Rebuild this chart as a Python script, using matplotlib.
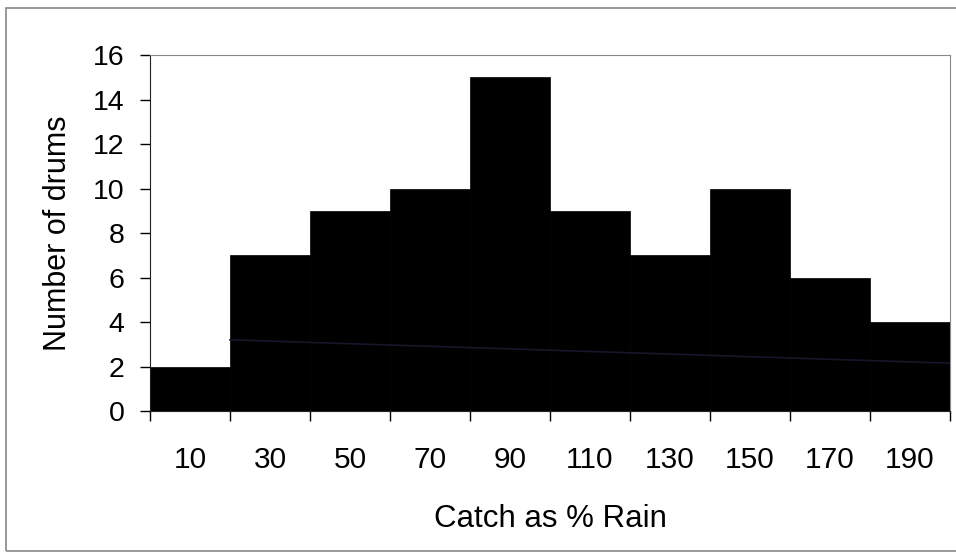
import matplotlib.pyplot as plt
from matplotlib.patches import Rectangle

plt.rcParams['font.family'] = ['Liberation Sans', 'DejaVu Sans']

# histogram data
bin_labels = ['10', '30', '50', '70', '90', '110', '130', '150', '170', '190']
counts = [2, 7, 9, 10, 15, 9, 7, 10, 6, 4]

# faint trend line seen across the bars
trend_x = [0.5, 9.5]
trend_y = [3.2, 2.15]

fig = plt.figure(figsize=(9.56, 5.54), dpi=100)
ax = fig.add_axes([0.1569, 0.2581, 0.9937 - 0.1569, 0.9007 - 0.2581])

x = list(range(len(counts)))
ax.bar(x, counts, width=1.0, color='black', edgecolor='black', linewidth=0.5, zorder=2)
ax.plot(trend_x, trend_y, color='#16162a', linewidth=1.2, zorder=3)

ax.set_xlim(-0.5, len(counts) - 0.5)
ax.set_ylim(0, 16)
ax.set_yticks(range(0, 17, 2))
ax.tick_params(axis='y', labelsize=20.5, length=7, width=1, direction='out', pad=11.5)

# ticks at bin edges, labels at bin centres
ax.set_xticks([i - 0.5 for i in range(len(counts) + 1)])
ax.set_xticklabels([])
ax.set_xticks(x, minor=True)
ax.set_xticklabels(bin_labels, minor=True)
ax.tick_params(axis='x', which='major', length=7, width=1, direction='out')
ax.tick_params(axis='x', which='minor', length=0, labelsize=21.5, pad=25)

for side in ['top', 'right']:
    ax.spines[side].set_color('#888888')
for side in ['left', 'bottom']:
    ax.spines[side].set_color('#222222')

ax.set_xlabel('Catch as % Rain', fontsize=22.5, labelpad=22)
ax.set_ylabel('Number of drums', fontsize=22, labelpad=14)

# outer chart border
fig.patches.append(Rectangle((6 / 956, 3 / 554), 1.2, 543 / 554, transform=fig.transFigure,
                             fill=False, edgecolor='#888888', linewidth=1.2))

fig.savefig('out.png', dpi=100, facecolor='white')
